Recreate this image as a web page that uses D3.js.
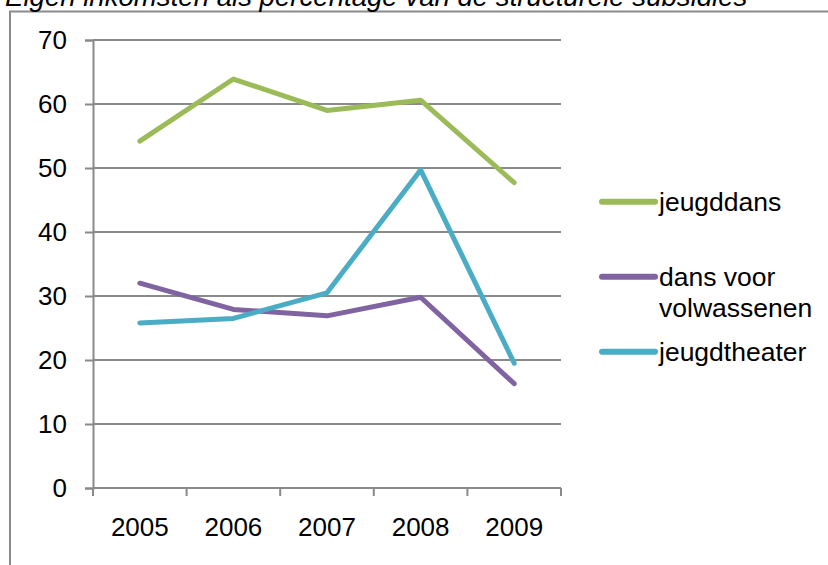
<!DOCTYPE html>
<html>
<head>
<meta charset="utf-8">
<script src="https://cdn.jsdelivr.net/npm/d3@7"></script>
<style>
html,body{margin:0;padding:0;background:#fff;}
svg{display:block;font-family:"Liberation Sans",Arial,sans-serif;}
</style>
</head>
<body>
<svg id="chart" width="828" height="565"></svg>
<script>
const title = "Eigen inkomsten als percentage van de structurele subsidies";
const years = ["2005","2006","2007","2008","2009"];
const yTicks = [0,10,20,30,40,50,60,70];
const jeugddans = [54.2, 63.9, 59.0, 60.6, 47.7];
const dansVoorVolwassenen = [32.0, 27.9, 26.9, 29.8, 16.3];
const jeugdtheater = [25.8, 26.5, 30.5, 49.7, 19.5];
const seriesNames = ["jeugddans", "dans voor volwassenen", "jeugdtheater"];
const seriesColors = ["#9BBB59", "#8064A2", "#4BACC6"];

const series = [
  {name: seriesNames[0], label: ["jeugddans"], values: jeugddans, color: seriesColors[0]},
  {name: seriesNames[1], label: ["dans voor", "volwassenen"], values: dansVoorVolwassenen, color: seriesColors[1]},
  {name: seriesNames[2], label: ["jeugdtheater"], values: jeugdtheater, color: seriesColors[2]}
];

const svg = d3.select("#chart");
const grey = "#8a8a8a";
const fs = 26;

// frame
svg.append("path").attr("d", "M10,570 L10,11.5 L840,11.5")
  .attr("fill","none").attr("stroke", grey).attr("stroke-width", 2);

// title
svg.append("text").attr("x", 5).attr("y", 5.5)
  .attr("font-size", 27.6).attr("font-style","italic").attr("fill","#000")
  .text(title);

const pLeft = 93, pRight = 561, pTop = 40, pBottom = 488;
const x = d3.scaleBand().domain(years).range([pLeft, pRight]);
const y = d3.scaleLinear().domain([0,70]).range([pBottom, pTop]);

// gridlines
svg.append("g").selectAll("line").data(yTicks.filter(d=>d>0)).join("line")
  .attr("x1", pLeft).attr("x2", pRight)
  .attr("y1", d=>y(d)).attr("y2", d=>y(d))
  .attr("stroke", grey).attr("stroke-width", 2);

// y axis
const yAxis = svg.append("g").attr("transform", `translate(${pLeft},0)`)
  .call(d3.axisLeft(y).tickValues(yTicks).tickSize(8).tickPadding(18));
yAxis.select(".domain").attr("stroke", grey).attr("stroke-width", 2);
yAxis.selectAll(".tick line").attr("stroke", grey).attr("stroke-width", 2);
yAxis.selectAll("text").attr("font-size", fs).attr("fill","#000")
  .attr("font-family", "Liberation Sans, Arial, sans-serif");

// x axis
const xAxis = svg.append("g").attr("transform", `translate(0,${pBottom})`)
  .call(d3.axisBottom(x).tickSize(0).tickPadding(30));
xAxis.select(".domain").attr("stroke", grey).attr("stroke-width", 2)
  .attr("d", `M${pLeft},0H${pRight}`);
xAxis.selectAll(".tick line").remove();
xAxis.selectAll("text").attr("font-size", fs).attr("fill","#000")
  .attr("font-family", "Liberation Sans, Arial, sans-serif");
// category boundary ticks
const bounds = years.map(d => x(d)).concat([x(years[years.length-1]) + x.bandwidth()]);
svg.append("g").selectAll("line").data(bounds).join("line")
  .attr("x1", d=>d).attr("x2", d=>d).attr("y1", pBottom).attr("y2", pBottom+8)
  .attr("stroke", grey).attr("stroke-width", 2);

// lines
const line = d3.line().x((d,i)=>x(years[i]) + x.bandwidth()/2).y(d=>y(d));
svg.append("g").selectAll("path").data(series).join("path")
  .attr("d", d=>line(d.values))
  .attr("fill","none").attr("stroke", d=>d.color).attr("stroke-width", 5)
  .attr("stroke-linejoin","round").attr("stroke-linecap","round");

// legend
const legY = [201.7, 276.7, 351.7];
const lg = svg.append("g").selectAll("g").data(series).join("g")
  .attr("transform", (d,i)=>`translate(0,${legY[i]})`);
lg.append("line").attr("x1", 602).attr("x2", 655).attr("y1",0).attr("y2",0)
  .attr("stroke", d=>d.color).attr("stroke-width", 6).attr("stroke-linecap","round");
lg.each(function(d){
  const g = d3.select(this);
  d.label.forEach((t,j)=>{
    g.append("text").attr("x", 659).attr("y", 9.5 + j*31)
      .attr("font-size", 26.5).attr("fill","#000").text(t);
  });
});
</script>
</body>
</html>
